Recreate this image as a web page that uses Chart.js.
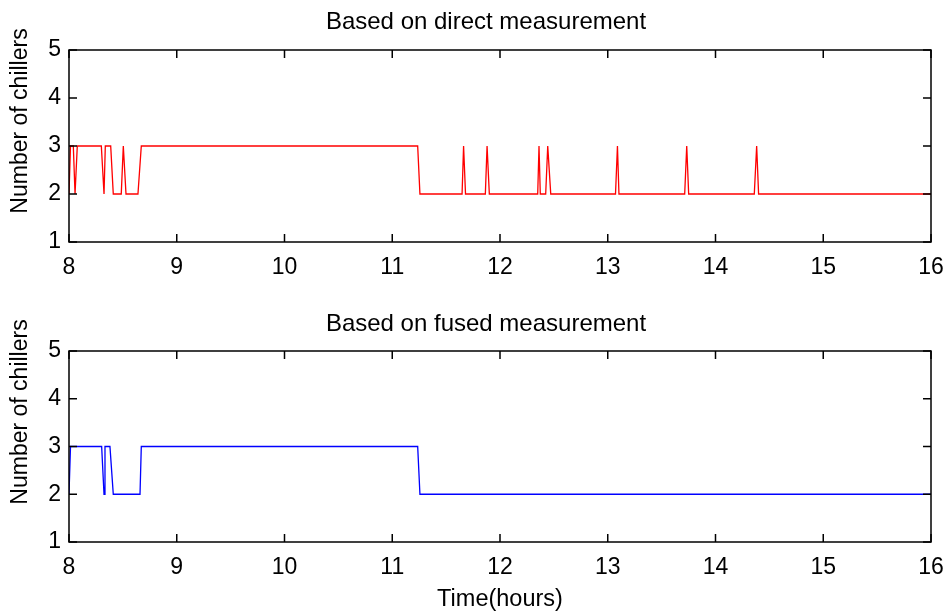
<!DOCTYPE html>
<html>
<head>
<meta charset="utf-8">
<script src="https://cdn.jsdelivr.net/npm/chart.js@4"></script>
<style>
  html, body { margin: 0; padding: 0; background: #fff; }
  #wrap { position: relative; width: 945px; height: 614px; }
  canvas { position: absolute; left: 0; }
  #topChart { top: 0; }
  #bottomChart { top: 300px; }
</style>
</head>
<body>
<div id="wrap">
  <canvas id="topChart" width="945" height="300"></canvas>
  <canvas id="bottomChart" width="945" height="314"></canvas>
</div>
<script>
// direct measurement (red) - vertices of the step trace, hours / chillers
const directTimes = [8.0, 8.014, 8.04, 8.056, 8.077, 8.30, 8.325, 8.337, 8.387, 8.411,
  8.485, 8.504, 8.529, 8.64, 8.671, 11.236, 11.257,
  11.648, 11.662, 11.68, 11.864, 11.88, 11.901,
  12.35, 12.362, 12.374, 12.424, 12.443, 12.471,
  13.072, 13.09, 13.104, 13.714, 13.733, 13.751,
  14.36, 14.382, 14.40, 16.0];
const directCount = [2, 3, 3, 2, 3, 3, 2, 3, 3, 2,
  2, 3, 2, 2, 3, 3, 2,
  2, 3, 2, 2, 3, 2,
  2, 3, 2, 2, 3, 2,
  2, 3, 2, 2, 3, 2,
  2, 3, 2, 2];

// fused measurement (blue)
const fusedTimes = [8.0, 8.014, 8.303, 8.325, 8.334, 8.38, 8.411, 8.659, 8.671, 11.236, 11.257, 16.0];
const fusedCount = [2, 3, 3, 2, 3, 3, 2, 2, 3, 3, 2, 2];

const xTicks = [8, 9, 10, 11, 12, 13, 14, 15, 16];
const yTicks = [1, 2, 3, 4, 5];

const FONT = "'Liberation Sans', Arial, sans-serif";

// matlab style box with inward ticks, plus the title texts
const boxTicks = {
    id: 'boxTicks',
    afterDraw(chart, args, opts) {
        let ctx = chart.ctx;
        let a = chart.chartArea;
        let x = chart.scales.x, y = chart.scales.y;
        ctx.save();
        ctx.strokeStyle = '#000';
        ctx.lineWidth = 1.5;
        ctx.strokeRect(a.left, a.top, a.right - a.left, a.bottom - a.top);
        ctx.beginPath();
        x.ticks.forEach(t => {
            let px = x.getPixelForValue(t.value);
            ctx.moveTo(px, a.bottom); ctx.lineTo(px, a.bottom - 8);
            ctx.moveTo(px, a.top); ctx.lineTo(px, a.top + 8);
        });
        y.ticks.forEach(t => {
            let py = y.getPixelForValue(t.value);
            ctx.moveTo(a.left, py); ctx.lineTo(a.left + 8, py);
            ctx.moveTo(a.right, py); ctx.lineTo(a.right - 8, py);
        });
        ctx.stroke();

        ctx.fillStyle = '#000';
        ctx.textAlign = 'center';
        ctx.textBaseline = 'middle';
        ctx.font = `24px ${FONT}`;
        ctx.fillText(opts.title, 486, opts.titleY);

        ctx.translate(21, opts.yTitleY);
        ctx.rotate(-Math.PI / 2);
        ctx.font = `23px ${FONT}`;
        ctx.fillText('Number of chillers', 0, 0);
        ctx.restore();
    }
};

function makeChart(id, title, times, counts, color, xTitle, top, titleY, yTitleY) {
    let pts = times.map((t, i) => ({x: t, y: counts[i]}));
    return new Chart(document.getElementById(id), {
        type: 'line',
        data: {
            datasets: [{
                data: pts,
                borderColor: color,
                borderWidth: 1.3,
                pointRadius: 0,
                tension: 0,
                fill: false
            }]
        },
        options: {
            responsive: false,
            animation: false,
            layout: { padding: { left: 0, right: 14, top: top, bottom: 0 } },
            plugins: {
                legend: { display: false },
                tooltip: { enabled: false },
                title: { display: false },
                boxTicks: { title: title, titleY: titleY, yTitleY: yTitleY }
            },
            scales: {
                x: {
                    type: 'linear',
                    min: 8, max: 16,
                    afterBuildTicks: s => { s.ticks = xTicks.map(v => ({value: v})); },
                    afterFit: s => {
                        s.height = xTitle ? 72 : 58;
                        s.paddingLeft = 0;
                        s.paddingRight = 0;
                    },
                    grid: { display: false, drawTicks: false },
                    border: { display: false },
                    ticks: {
                        color: '#000', padding: 12, maxRotation: 0,
                        font: { family: FONT, size: 23 }
                    },
                    title: {
                        display: !!xTitle,
                        text: xTitle || '',
                        color: '#000',
                        font: { family: FONT, size: 23.5 },
                        padding: { top: 0, bottom: 0 }
                    }
                },
                y: {
                    min: 1, max: 5,
                    afterBuildTicks: s => { s.ticks = yTicks.map(v => ({value: v})); },
                    afterFit: s => { s.width = 69; },
                    grid: { display: false, drawTicks: false },
                    border: { display: false },
                    ticks: {
                        color: '#000', padding: 8,
                        font: { family: FONT, size: 23 }
                    }
                }
            }
        },
        plugins: [boxTicks]
    });
}

makeChart('topChart', 'Based on direct measurement', directTimes, directCount, '#ff0000', null, 50, 22, 121);
makeChart('bottomChart', 'Based on fused measurement', fusedTimes, fusedCount, '#0000ff', 'Time(hours)', 51, 24, 112);
</script>
</body>
</html>
